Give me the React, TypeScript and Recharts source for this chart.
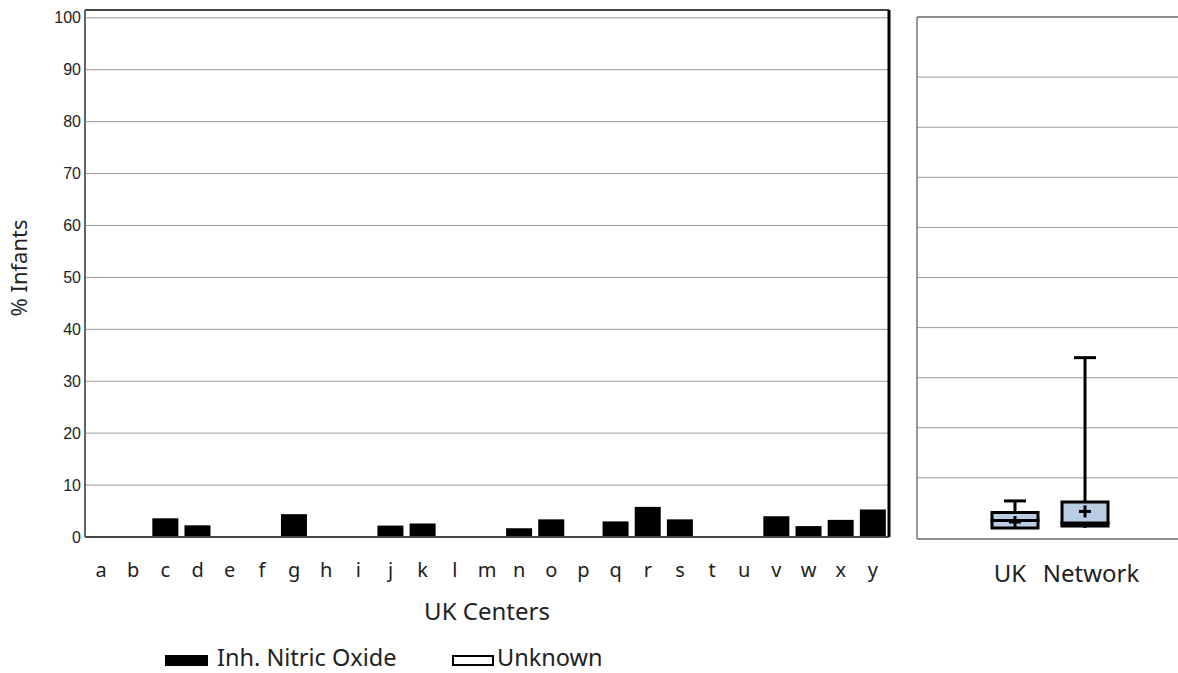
import type { FC } from "react";
import {
  BarChart,
  ComposedChart,
  Bar,
  Scatter,
  XAxis,
  YAxis,
  CartesianGrid,
  ReferenceLine,
} from "recharts";

const centers = [
  "a", "b", "c", "d", "e", "f", "g", "h", "i", "j", "k", "l", "m",
  "n", "o", "p", "q", "r", "s", "t", "u", "v", "w", "x", "y",
];
const nitricOxide = [
  0, 0, 3.6, 2.25, 0, 0, 4.4, 0, 0, 2.2, 2.6, 0, 0,
  1.7, 3.4, 0, 3.0, 5.8, 3.4, 0, 0, 4.0, 2.1, 3.3, 5.3,
];
const unknown = [
  0, 0, 0, 0, 0, 0, 0, 0, 0, 0, 0, 0, 0,
  0, 0, 0, 0, 0, 0, 0, 0, 0, 0, 0, 0,
];
const yTicks = [0, 10, 20, 30, 40, 50, 60, 70, 80, 90, 100];

const boxGroups = ["UK", "Network"];
const boxMin = [0, 0];
const boxQ1 = [0, 0.4];
const boxMedian = [1.5, 1.0];
const boxQ3 = [3.1, 5.2];
const boxMax = [5.4, 34.0];
const boxMean = [1.2, 3.3];
const boxGridTicks = [10, 20, 30, 40, 50, 60, 70, 80, 90];

const seriesNames = ["Inh. Nitric Oxide", "Unknown"];

const barData = centers.map((c, i) => ({
  name: c,
  nitric: nitricOxide[i],
  unknown: unknown[i],
}));

const boxData = boxGroups.map((g, i) => ({
  name: g,
  base: boxMin[i],
  lowW: boxQ1[i] - boxMin[i],
  lowBox: boxMedian[i] - boxQ1[i],
  highBox: boxQ3[i] - boxMedian[i],
  highW: boxMax[i] - boxQ3[i],
  mean: boxMean[i],
}));

const FONT = "'Noto Sans', 'Open Sans', sans-serif";
const BOX_FILL = "#b9cde5";

const YTick = (props: any) => {
  const { x, y, payload } = props;
  return (
    <text
      x={x}
      y={y}
      dy="0.35em"
      textAnchor="end"
      fontSize={16}
      fontFamily="'Liberation Sans', Arial, sans-serif"
      fill="#222"
    >
      {payload.value}
    </text>
  );
};

const NoTick = () => <g />;

const GroupTick = (props: any) => {
  const { x, y, payload } = props;
  const dx = payload.value === "UK" ? -5 : 6;
  return (
    <text
      x={x + dx}
      y={y}
      dy="0.71em"
      textAnchor="middle"
      fontSize={24}
      fontFamily={FONT}
      fill="#222"
    >
      {payload.value}
    </text>
  );
};

const WhiskerHigh = (props: any) => {
  const { x, y, width, height } = props;
  if (!height) return <g />;
  const cx = x + width / 2;
  return (
    <g>
      <line x1={cx} x2={cx} y1={y} y2={y + height} stroke="#000" strokeWidth={3} />
      <line x1={cx - 11} x2={cx + 11} y1={y} y2={y} stroke="#000" strokeWidth={3} />
    </g>
  );
};

const WhiskerLow = (props: any) => {
  const { x, y, width, height } = props;
  if (!height) return <g />;
  const cx = x + width / 2;
  return (
    <g>
      <line x1={cx} x2={cx} y1={y} y2={y + height} stroke="#000" strokeWidth={3} />
    </g>
  );
};

const MeanPlus = (props: any) => {
  const { cx, cy } = props;
  return (
    <g>
      <line x1={cx - 6} x2={cx + 6} y1={cy} y2={cy} stroke="#000" strokeWidth={3} />
      <line x1={cx} x2={cx} y1={cy - 6} y2={cy + 6} stroke="#000" strokeWidth={3} />
    </g>
  );
};

const App: FC = () => {
  return (
    <div
      style={{
        position: "absolute",
        left: 0,
        top: 0,
        width: 1178,
        height: 673,
        overflow: "hidden",
        background: "#fff",
        fontFamily: FONT,
      }}
    >
      <div style={{ position: "absolute", left: 0, top: 0 }}>
        <BarChart
          width={900}
          height={640}
          data={barData}
          margin={{ top: 10, right: 9, left: 0, bottom: 0 }}
          barSize={26}
        >
          <CartesianGrid vertical={false} stroke="#9a9a9a" />
          <XAxis
            dataKey="name"
            height={103}
            tickSize={0}
            tickMargin={26}
            axisLine={{ stroke: "#444", strokeWidth: 2 }}
            tick={{ fontSize: 20, fill: "#222", fontFamily: FONT }}
            interval={0}
            label={{
              value: "UK Centers",
              position: "insideBottom",
              offset: 20,
              fontSize: 24,
              fill: "#222",
              fontFamily: FONT,
            }}
          />
          <YAxis
            width={85}
            domain={[0, 101.5]}
            ticks={yTicks}
            tickSize={0}
            tickMargin={4}
            interval={0}
            axisLine={{ stroke: "#666", strokeWidth: 2 }}
            tick={<YTick />}
          />
          <YAxis
            yAxisId="frame"
            orientation="right"
            width={2}
            domain={[0, 101.5]}
            ticks={yTicks}
            tick={<NoTick />}
            tickLine={false}
            axisLine={{ stroke: "#000", strokeWidth: 3 }}
          />
          <ReferenceLine y={101.5} stroke="#444" strokeWidth={2} />
          <Bar
            dataKey="nitric"
            name={seriesNames[0]}
            stackId="s"
            fill="#000"
            isAnimationActive={false}
          />
          <Bar
            dataKey="unknown"
            name={seriesNames[1]}
            stackId="s"
            fill="#fff"
            stroke="#000"
            isAnimationActive={false}
          />
        </BarChart>
      </div>

      <div style={{ position: "absolute", left: 900, top: 0 }}>
        <ComposedChart
          width={400}
          height={640}
          data={boxData}
          margin={{ top: 17, right: 0, left: 0, bottom: 0 }}
        >
          <CartesianGrid vertical={false} stroke="#9a9a9a" />
          <XAxis
            dataKey="name"
            height={101}
            padding={{ left: 63, right: 180 }}
            tickSize={0}
            tickMargin={26}
            axisLine={{ stroke: "#777", strokeWidth: 1.5 }}
            tick={<GroupTick />}
            interval={0}
          />
          <YAxis
            width={17}
            type="number"
            domain={[-2.2, 102]}
            ticks={boxGridTicks}
            interval={0}
            tick={<NoTick />}
            tickLine={false}
            axisLine={{ stroke: "#777", strokeWidth: 1.5 }}
          />
          <ReferenceLine y={102} stroke="#777" strokeWidth={1.5} />
          <Bar dataKey="base" stackId="b" fill="none" barSize={46} isAnimationActive={false} />
          <Bar dataKey="lowW" stackId="b" barSize={46} shape={<WhiskerLow />} isAnimationActive={false} />
          <Bar
            dataKey="lowBox"
            stackId="b"
            barSize={46}
            fill={BOX_FILL}
            stroke="#000"
            strokeWidth={3}
            isAnimationActive={false}
          />
          <Bar
            dataKey="highBox"
            stackId="b"
            barSize={46}
            fill={BOX_FILL}
            stroke="#000"
            strokeWidth={3}
            isAnimationActive={false}
          />
          <Bar dataKey="highW" stackId="b" barSize={46} shape={<WhiskerHigh />} isAnimationActive={false} />
          <Scatter dataKey="mean" shape={<MeanPlus />} isAnimationActive={false} />
        </ComposedChart>
      </div>

      <svg
        width={1178}
        height={673}
        style={{ position: "absolute", left: 0, top: 0, pointerEvents: "none" }}
      >
        <text
          transform="translate(27, 268) rotate(-90)"
          textAnchor="middle"
          fontSize={22}
          fontFamily={FONT}
          fill="#222"
        >
          % Infants
        </text>
        <rect x={165} y={655} width={43} height={11} fill="#000" />
        <text x={217} y={666} fontSize={23.5} fontFamily={FONT} fill="#222">
          {seriesNames[0]}
        </text>
        <rect x={453} y={656} width={40} height={9} fill="#fff" stroke="#000" strokeWidth={2} />
        <text x={497} y={666} fontSize={23.5} fontFamily={FONT} fill="#222">
          {seriesNames[1]}
        </text>
      </svg>
    </div>
  );
};

export default App;
